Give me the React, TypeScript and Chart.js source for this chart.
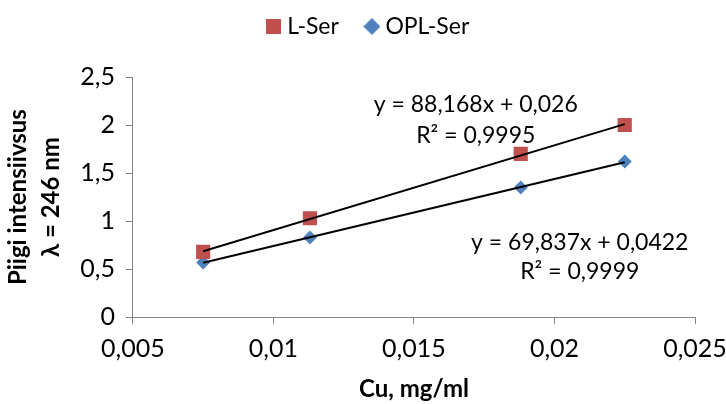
import React, { useEffect, useRef } from "react";
import { Chart, registerables } from "chart.js";

Chart.register(...registerables);

const cuValues = [0.0075, 0.0113, 0.0188, 0.0225];
const lSerValues = [0.68, 1.03, 1.7, 2.0];
const oplSerValues = [0.57, 0.83, 1.35, 1.62];
const lSerFit = [88.168, 0.026];
const oplSerFit = [69.837, 0.0422];
const lSerLabel = ["y = 88,168x + 0,026", "R² = 0,9995"];
const oplSerLabel = ["y = 69,837x + 0,0422", "R² = 0,9999"];
const lSerLabelAt = [0.0172, 2.216, 1.887];
const oplSerLabelAt = [0.0209, 0.773, 0.474];

const RED = "#C0504D";
const BLUE = "#4F81BD";
const FONT = "Lato, 'Open Sans', sans-serif";

function fmt(v: number): string {
  return String(Number(Number(v).toFixed(4))).replace(".", ",");
}

function makeIcon(kind: "square" | "diamond"): HTMLCanvasElement {
  const c = document.createElement("canvas");
  const s = kind === "square" ? 15 : 17;
  c.width = s;
  c.height = s;
  const g = c.getContext("2d")!;
  if (kind === "square") {
    g.fillStyle = RED;
    g.fillRect(0, 0, 15, 15);
  } else {
    g.fillStyle = BLUE;
    g.beginPath();
    g.moveTo(8.5, 0);
    g.lineTo(17, 8.5);
    g.lineTo(8.5, 17);
    g.lineTo(0, 8.5);
    g.closePath();
    g.fill();
  }
  return c;
}

export default function App() {
  const ref = useRef<HTMLCanvasElement | null>(null);

  useEffect(() => {
    document.body.style.margin = "0";
    const icons = [makeIcon("square"), makeIcon("diamond")];
    const xMin = cuValues[0];
    const xMax = cuValues[cuValues.length - 1];

    const legendSpace = {
      id: "legendSpace",
      beforeInit(chart: any) {
        const lg = chart.legend;
        if (!lg) return;
        const orig = lg.fit;
        lg.fit = function () {
          orig.call(this);
          this.height += 29;
          if (this.lineWidths && this.lineWidths.length) this.lineWidths[0] -= 14;
        };
      },
    };

    const labelPlugin = {
      id: "eqLabels",
      afterDatasetsDraw(chart: any) {
        const { ctx, scales } = chart;
        const xs = scales.x;
        const ys = scales.y;
        ctx.save();
        ctx.fillStyle = "#000";
        ctx.font = `23px ${FONT}`;
        ctx.textAlign = "center";
        ctx.textBaseline = "middle";
        const draw = (lines: string[], at: number[]) => {
          ctx.fillText(lines[0], xs.getPixelForValue(at[0]), ys.getPixelForValue(at[1]));
          ctx.fillText(lines[1], xs.getPixelForValue(at[0]), ys.getPixelForValue(at[2]));
        };
        draw(lSerLabel, lSerLabelAt);
        draw(oplSerLabel, oplSerLabelAt);
        ctx.restore();
      },
    };

    const chart = new Chart(ref.current!, {
      type: "scatter",
      data: {
        datasets: [
          {
            label: "L-Ser",
            data: cuValues.map((x, i) => ({ x, y: lSerValues[i] })),
            backgroundColor: RED,
            borderColor: RED,
            pointStyle: "rect",
            pointRadius: 10,
            pointBorderWidth: 0,
            order: 2,
          },
          {
            label: "OPL-Ser",
            data: cuValues.map((x, i) => ({ x, y: oplSerValues[i] })),
            backgroundColor: BLUE,
            borderColor: BLUE,
            pointStyle: "rectRot",
            pointRadius: 7,
            pointBorderWidth: 0,
            order: 2,
          },
          {
            label: "trend-L",
            type: "line",
            data: [
              { x: xMin, y: lSerFit[0] * xMin + lSerFit[1] },
              { x: xMax, y: lSerFit[0] * xMax + lSerFit[1] },
            ],
            borderColor: "#000",
            borderWidth: 2,
            pointRadius: 0,
            fill: false,
            order: 0,
          } as any,
          {
            label: "trend-OPL",
            type: "line",
            data: [
              { x: xMin, y: oplSerFit[0] * xMin + oplSerFit[1] },
              { x: xMax, y: oplSerFit[0] * xMax + oplSerFit[1] },
            ],
            borderColor: "#000",
            borderWidth: 2,
            pointRadius: 0,
            fill: false,
            order: 0,
          } as any,
        ],
      },
      options: {
        animation: false,
        responsive: true,
        maintainAspectRatio: false,
        layout: { padding: { left: 1, right: 0, top: -16, bottom: 0 } },
        plugins: {
          tooltip: { enabled: false },
          legend: {
            position: "top",
            labels: {
              color: "#000",
              font: { family: FONT, size: 23 },
              usePointStyle: true,
              pointStyleWidth: 4,
              boxWidth: 4,
              padding: 31,
              filter: (item: any) => item.datasetIndex < 2,
              generateLabels: (ch: any) => {
                const items = Chart.defaults.plugins.legend.labels.generateLabels(ch);
                return items.map((it: any) => ({
                  ...it,
                  pointStyle: it.datasetIndex < 2 ? icons[it.datasetIndex] : it.pointStyle,
                }));
              },
            },
          },
        },
        scales: {
          x: {
            type: "linear",
            min: 0.005,
            max: 0.025,
            afterFit: (s: any) => {
              s.paddingRight = 31;
            },
            ticks: {
              stepSize: 0.005,
              color: "#000",
              font: { family: FONT, size: 25 },
              padding: 10,
              callback: (v: any) => fmt(v),
              maxRotation: 0,
            },
            grid: { drawOnChartArea: false, drawTicks: true, tickLength: 7, color: "#868686" },
            border: { color: "#868686", width: 1 },
            title: {
              display: true,
              text: "Cu, mg/ml",
              color: "#000",
              font: { family: FONT, size: 24, weight: "bold" },
              padding: { top: 1, bottom: 0 },
            },
          },
          y: {
            type: "linear",
            min: 0,
            max: 2.5,
            ticks: {
              stepSize: 0.5,
              color: "#000",
              font: { family: FONT, size: 25 },
              padding: 11,
              callback: (v: any) => fmt(v),
            },
            grid: { drawOnChartArea: false, drawTicks: true, tickLength: 7, color: "#868686" },
            border: { color: "#868686", width: 1 },
            title: {
              display: true,
              text: ["Piigi intensiivsus", "λ = 246 nm"],
              color: "#000",
              font: { family: FONT, size: 24, weight: "bold", lineHeight: 1.4 },
              padding: { top: 0, bottom: 1 },
            },
          },
        },
      },
      plugins: [legendSpace, labelPlugin],
    });
    return () => chart.destroy();
  }, []);

  return (
    <div style={{ position: "absolute", left: 0, top: 0, width: 726, height: 404 }}>
      <canvas ref={ref} />
    </div>
  );
}
